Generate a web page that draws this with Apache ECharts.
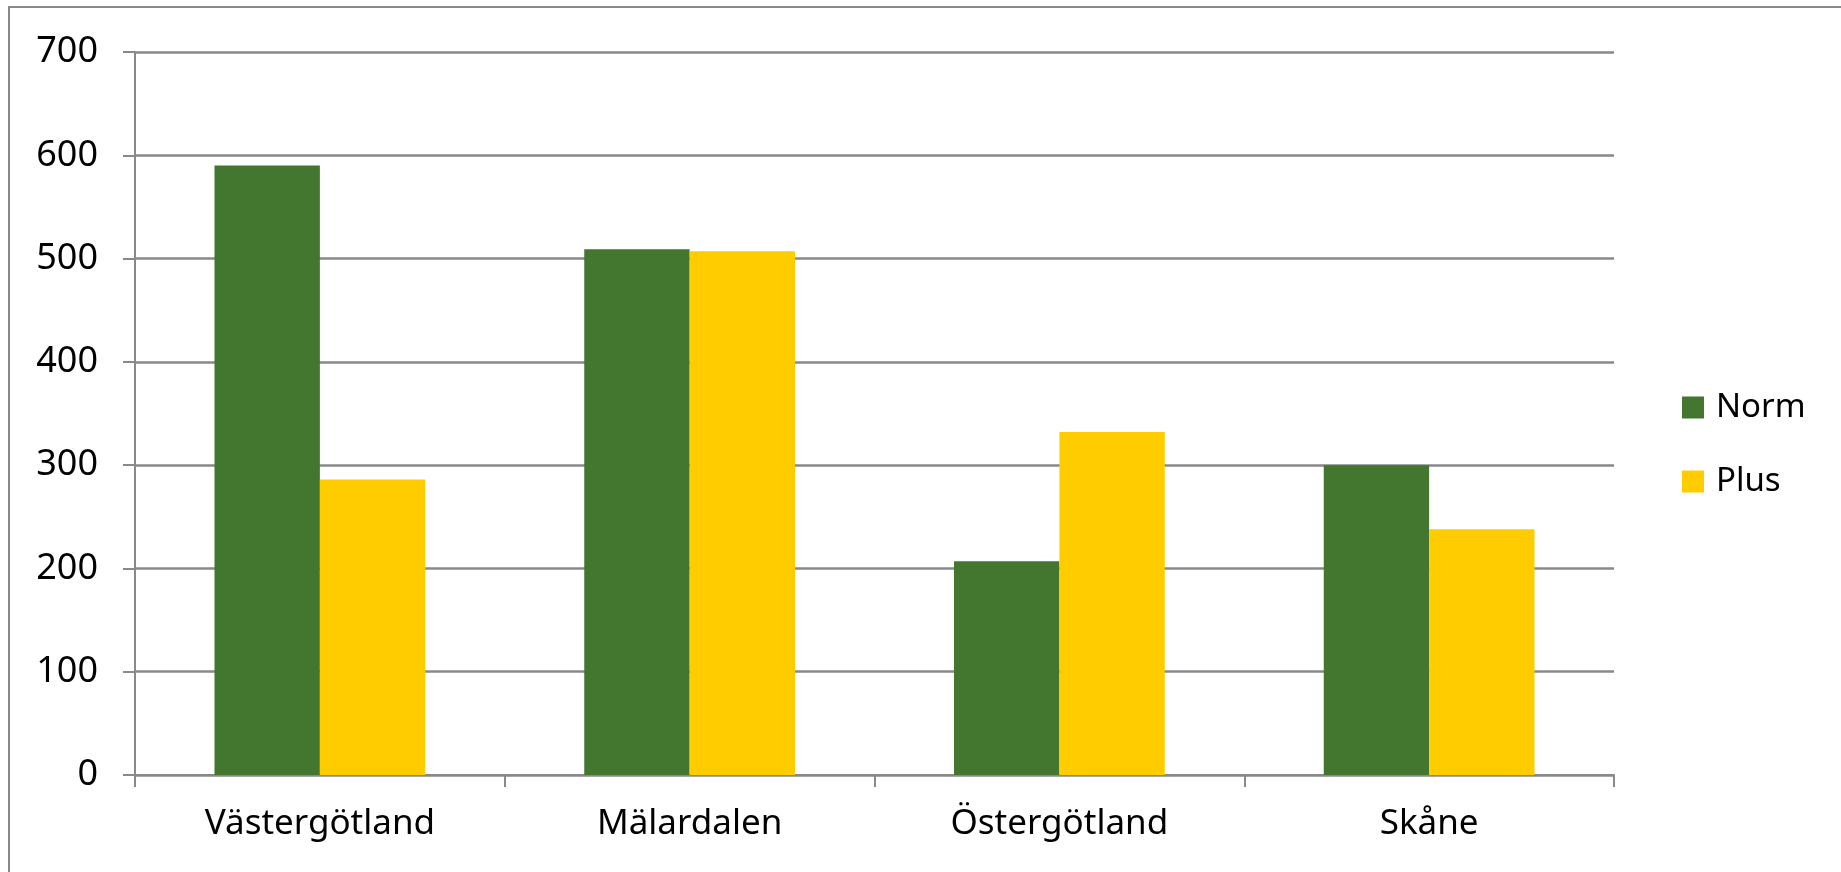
<!DOCTYPE html>
<html>
<head>
<meta charset="utf-8">
<script src="https://cdn.jsdelivr.net/npm/echarts@6/dist/echarts.min.js"></script>
<style>
  html, body { margin: 0; padding: 0; background: #fff; }
  #chart { width: 1841px; height: 872px; }
</style>
</head>
<body>
<div id="chart"></div>
<script>
// regions and values
const categories = ['Västergötland', 'Mälardalen', 'Östergötland', 'Skåne'];
const normValues = [590, 509, 207, 300];
const plusValues = [286, 507, 332, 238];
const seriesNames = ['Norm', 'Plus'];

const font = '"Noto Sans", sans-serif';
const gray = '#898989';

const chart = echarts.init(document.getElementById('chart'));

const option = {
  animation: false,
  backgroundColor: '#fff',
  graphic: [
    {
      type: 'rect',
      shape: { x: 9, y: 7, width: 1900, height: 1000 },
      style: { fill: 'none', stroke: gray, lineWidth: 2 },
      silent: true
    }
  ],
  grid: {
    left: 135,
    top: 52,
    right: 227,
    bottom: 97,
    containLabel: false
  },
  legend: {
    data: seriesNames,
    orient: 'vertical',
    left: 1677,
    top: 386,
    itemWidth: 22,
    itemHeight: 22,
    itemGap: 41,
    icon: 'rect',
    textStyle: {
      fontFamily: font,
      fontSize: 33,
      color: '#000',
      padding: [0, 0, 0, 7]
    }
  },
  xAxis: {
    type: 'category',
    data: categories,
    axisLine: { lineStyle: { color: gray, width: 2 } },
    axisTick: { show: true, length: 12, lineStyle: { color: gray, width: 2 } },
    axisLabel: {
      fontFamily: font,
      fontSize: 35,
      color: '#000',
      margin: 32
    }
  },
  yAxis: {
    type: 'value',
    min: 0,
    max: 700,
    interval: 100,
    axisLine: { show: true, lineStyle: { color: gray, width: 2 } },
    axisTick: { show: true, length: 12, lineStyle: { color: gray, width: 2 } },
    splitLine: { show: true, lineStyle: { color: gray, width: 2.5 } },
    axisLabel: {
      fontFamily: font,
      fontSize: 36,
      color: '#000',
      margin: 37
    }
  },
  series: [
    {
      name: seriesNames[0],
      type: 'bar',
      data: normValues,
      barGap: '0%',
      barCategoryGap: '43%',
      itemStyle: { color: '#43772f' }
    },
    {
      name: seriesNames[1],
      type: 'bar',
      data: plusValues,
      itemStyle: { color: '#ffcc00' }
    }
  ]
};

chart.setOption(option);
</script>
</body>
</html>
